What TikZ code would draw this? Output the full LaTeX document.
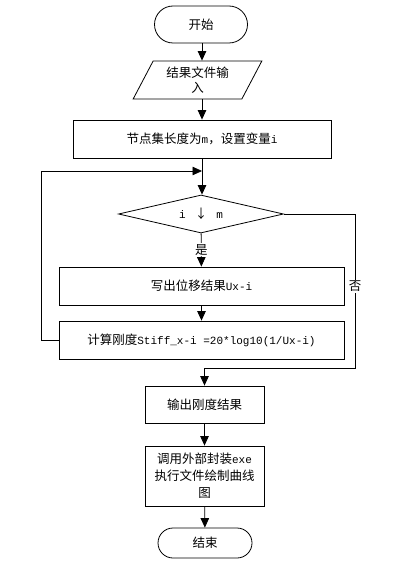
\documentclass[tikz,border=0pt]{standalone}
\usepackage{fontspec}
\setmainfont{Noto Sans CJK SC}
\setmonofont{Liberation Mono}[Scale=0.88]
\usetikzlibrary{shapes.geometric}
\usetikzlibrary{shapes.misc}
\usetikzlibrary{arrows.meta}
\usetikzlibrary{positioning}

\begin{document}
\begin{tikzpicture}[x=1pt, y=-1pt, font=\fontsize{12.5}{15}\selectfont,
	>={Triangle[length=9.5pt,width=8.5pt]},
	term/.style={rounded rectangle, draw, line width=0.8pt, minimum width=93pt, minimum height=37pt, inner sep=0pt},
	io/.style={trapezium, trapezium left angle=62, trapezium right angle=118, trapezium stretches=true, draw, line width=0.8pt, minimum width=129pt, minimum height=38pt, inner sep=0pt, align=center},
	proc/.style={rectangle, draw, line width=0.8pt, inner sep=0pt, align=center},
	decide/.style={diamond, draw, line width=0.8pt, minimum width=165pt, minimum height=38pt, inner sep=0pt, aspect=4},
	line/.style={draw, line width=0.8pt, ->}]
				\useasboundingbox (0,0) rectangle (411,575);
				
				\node[term] (start) at (201,24.5) {开始};
				\node[io] (in) at (197.5,80) {结果文件输\\入};
				\node[proc, minimum width=258pt, minimum height=38pt] (setm) at (202,139) {节点集长度为\texttt{m}，设置变量\texttt{i}};
				\node[decide] (cmp) at (201,214) {\texttt{i}\hspace{9pt}↓\hspace{9pt}\texttt{m}};
				\node[proc, minimum width=285pt, minimum height=38pt] (disp) at (201.5,286) {写出位移结果\texttt{Ux-i}};
				\node[proc, minimum width=285pt, minimum height=38pt] (stiff) at (201.5,340) {计算刚度\texttt{Stiff\_x-i =20*log10(1/Ux-i)}};
				\node[proc, minimum width=119pt, minimum height=37pt] (out) at (204.5,404.5) {输出刚度结果};
				\node[proc, minimum width=119pt, minimum height=60pt, font=\fontsize{12.5}{17}\selectfont] (plot) at (204.5,476) {调用外部封装\texttt{exe}\\执行文件绘制曲线\\图};
				\node[term, minimum width=94pt, minimum height=30pt] (stop) at (205,543) {结束};
				
				\coordinate (join) at (202,171);
				\coordinate (fork) at (355,368);
				
				\draw[line] (start.south -| join) -- (join |- in.north);
				\draw[line] (join |- in.south) -- (join |- setm.north);
				\draw[line] (join |- setm.south) -- (join |- cmp.north);
				\draw[line] (cmp) -- node[fill=white, inner sep=1pt] {是} (disp);
				\draw[line] (disp) -- (stiff);
				\draw[line] (stiff.west) -- ++(-17,0) |- (join);
				\draw[line] (cmp.east) -- (cmp.east -| fork) -- node[pos=0.47, fill=white, inner sep=1pt] {否} (fork) -| (out);
				\draw[line] (out) -- (plot);
				\draw[line] (plot) -- (stop);
			\end{tikzpicture}
\end{document}
